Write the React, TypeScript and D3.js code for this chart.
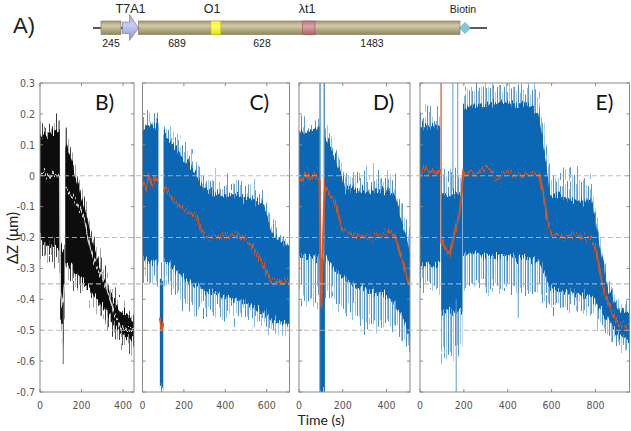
import React from 'react';
import * as d3 from 'd3';

const W = 631;
const H = 431;

// ---------- shared axis info ----------
const yTicks = [0.3, 0.2, 0.1, 0, -0.1, -0.2, -0.3, -0.4, -0.5, -0.6, -0.7];
const refLevels = [0, -0.2, -0.35, -0.5];
const panelLabels = ['B)', 'C)', 'D)', 'E)'];
const panelDomains: [number, number][] = [[0, 453], [0, 710], [0, 507], [0, 955]];
const panelXTicks = [[0, 200, 400], [0, 200, 400, 600], [0, 200, 400], [0, 200, 400, 600, 800]];

// ---------- construct diagram (A) ----------
const segLengths = ['245', '689', '628', '1483'];
const featureNames = ['T7A1', 'O1', 'λt1', 'Biotin'];

// ---------- traces: [t, spikeTop, bandTop, bandBottom, spikeBottom] ----------
type Band = [number, number, number, number, number][];
type Med = [number, number | null][];
type Spike = [number, number, number][];

const bBands: Band[] = [
  [[0, 0.17, 0.13, -0.2, -0.27], [30, 0.16, 0.13, -0.22, -0.27], [60, 0.17, 0.14, -0.23, -0.28], [95, 0.18, 0.15, -0.24, -0.29]],
  [[97, -0.2, -0.24, -0.46, -0.5], [105, -0.2, -0.24, -0.47, -0.52], [112, -0.2, -0.24, -0.48, -0.56], [118, -0.2, -0.24, -0.46, -0.5]],
  [[122, 0.14, 0.11, -0.28, -0.31], [150, 0.08, 0.05, -0.3, -0.34], [200, -0.04, -0.07, -0.33, -0.37], [255, -0.19, -0.22, -0.38, -0.41],
   [300, -0.29, -0.32, -0.42, -0.45], [340, -0.36, -0.39, -0.46, -0.49], [380, -0.41, -0.43, -0.5, -0.53], [420, -0.43, -0.45, -0.52, -0.55], [453, -0.45, -0.47, -0.54, -0.56]],
];
const bMedian: Med = [[0, 0.0], [20, 0.01], [40, -0.01], [60, 0.01], [80, 0.0], [95, 0.0], [98, -0.36], [105, -0.42], [112, -0.4], [118, -0.35], [119, null],
  [124, -0.04], [160, -0.07], [209, -0.13], [241, -0.23], [257, -0.27], [300, -0.33], [337, -0.4], [361, -0.45], [390, -0.49], [420, -0.5], [453, -0.5]];
const bSpikes: Spike[] = [[112, -0.4, -0.61], [70, -0.2, -0.3]];

const cBands: Band[] = [
  [[0, 0.19, 0.16, -0.27, -0.33], [40, 0.19, 0.16, -0.28, -0.34], [77, 0.2, 0.17, -0.28, -0.34]],
  [[84, -0.3, -0.34, -0.68, -0.72], [100, -0.3, -0.34, -0.68, -0.72]],
  [[102, 0.17, 0.14, -0.27, -0.33], [150, 0.13, 0.1, -0.3, -0.37], [200, 0.09, 0.06, -0.33, -0.4], [262, 0.03, 0.0, -0.36, -0.43],
   [300, -0.01, -0.04, -0.37, -0.44], [330, -0.02, -0.06, -0.38, -0.44], [400, -0.02, -0.06, -0.39, -0.45], [500, -0.03, -0.07, -0.41, -0.45],
   [583, -0.06, -0.09, -0.44, -0.48], [632, -0.16, -0.2, -0.47, -0.5], [710, -0.2, -0.23, -0.48, -0.5]],
];
const cMedian: Med = [[0, -0.02], [15, -0.04], [30, 0.0], [45, -0.03], [60, -0.01], [77, -0.02], [78, null], [84, -0.46], [92, -0.5], [100, -0.48], [101, null],
  [102, -0.035], [120, -0.05], [150, -0.08], [182, -0.1], [230, -0.12], [262, -0.13], [285, -0.18], [310, -0.2], [400, -0.195], [472, -0.19],
  [520, -0.22], [551, -0.25], [590, -0.3], [617, -0.34], [640, -0.345], [710, -0.345]];
const cSpikes: Spike[] = [];

const dBands: Band[] = [
  [[0, 0.17, 0.14, -0.26, -0.38], [50, 0.17, 0.14, -0.26, -0.4], [94, 0.19, 0.16, -0.27, -0.38]],
  [[97, -0.24, -0.27, -0.7, -0.72], [117, -0.24, -0.27, -0.7, -0.72]],
  [[118, 0.16, 0.13, -0.26, -0.38], [160, 0.1, 0.07, -0.3, -0.4], [187, 0.05, 0.02, -0.32, -0.42], [210, 0.0, -0.04, -0.33, -0.44],
   [300, -0.01, -0.05, -0.37, -0.47], [400, 0.0, -0.05, -0.39, -0.48], [438, -0.02, -0.06, -0.41, -0.49], [470, -0.1, -0.15, -0.45, -0.53], [507, -0.2, -0.25, -0.52, -0.56]],
];
const dMedian: Med = [[0, 0.0], [15, -0.02], [30, 0.01], [50, -0.01], [70, 0.01], [94, -0.01], [98, -0.3], [102, -0.43], [110, -0.2], [118, -0.03],
  [140, -0.06], [160, -0.08], [172, -0.1], [195, -0.175], [250, -0.19], [320, -0.2], [380, -0.19], [420, -0.18], [440, -0.2], [470, -0.27], [500, -0.345], [507, -0.35]];
const dSpikes: Spike[] = [[96, 0.3, -0.7], [115, 0.3, -0.7]];

const eBands: Band[] = [
  [[0, 0.2, 0.16, -0.29, -0.36], [45, 0.21, 0.16, -0.29, -0.36], [92, 0.2, 0.16, -0.29, -0.36]],
  [[97, 0.0, -0.06, -0.44, -0.57], [150, 0.0, -0.06, -0.44, -0.57], [193, 0.0, -0.06, -0.44, -0.57]],
  [[196, 0.27, 0.22, -0.25, -0.36], [300, 0.29, 0.23, -0.26, -0.36], [400, 0.29, 0.24, -0.26, -0.36], [500, 0.28, 0.23, -0.27, -0.37],
   [540, 0.26, 0.2, -0.27, -0.38], [560, 0.18, 0.12, -0.3, -0.4], [594, 0.0, -0.06, -0.36, -0.43], [700, -0.01, -0.08, -0.38, -0.42],
   [784, -0.02, -0.08, -0.39, -0.44], [822, -0.2, -0.24, -0.43, -0.48], [858, -0.34, -0.37, -0.47, -0.52], [913, -0.42, -0.44, -0.52, -0.56], [955, -0.42, -0.44, -0.53, -0.57]],
];
const eMedian: Med = [[0, 0.0], [20, 0.03], [40, 0.01], [60, 0.02], [80, 0.0], [95, 0.02], [96, null], [98, -0.2], [110, -0.23], [137, -0.25], [160, -0.18],
  [183, -0.11], [198, 0.02], [250, 0.0], [300, 0.03], [350, -0.01], [400, 0.01], [450, 0.0], [540, 0.01], [560, -0.05], [580, -0.14], [600, -0.19],
  [650, -0.2], [700, -0.19], [776, -0.2], [800, -0.23], [836, -0.37], [876, -0.445], [906, -0.48], [955, -0.485]];
const eSpikes: Spike[] = [[150, 0.3, -0.05], [172, 0.3, -0.05], [165, -0.4, -0.7], [448, -0.3, -0.46]];
const eStepLine: Spike[] = [[96, 0.3, -0.22]];

const allBands = [bBands, cBands, dBands, eBands];
const allMedians = [bMedian, cMedian, dMedian, eMedian];
const allSpikes = [bSpikes, cSpikes, dSpikes, eSpikes];

// ---------- layout ----------
const panelX: [number, number][] = [[40, 134], [142.5, 289.5], [299, 410], [420, 629.5]];
const plotTop = 83;
const plotBottom = 392;
const yScale = d3.scaleLinear().domain([-0.7, 0.3]).range([plotBottom, plotTop]);

const tickFont = '"Liberation Sans Narrow", "Arial Narrow", "DejaVu Sans Condensed", sans-serif';
const labelFont = 'Lato, "Open Sans", sans-serif';

function Jag({ id, scale, fy, seed }: { id: string; scale: number; fy: number; seed: number }) {
  return (
    <filter id={id} filterUnits="userSpaceOnUse" x={0} y={0} width={W} height={H} colorInterpolationFilters="sRGB">
      <feTurbulence type="fractalNoise" baseFrequency={`0.9 ${fy}`} numOctaves={2} seed={seed} result="n" />
      <feColorMatrix in="n" type="matrix" values="0 0 0 0 0.5  0 1 0 0 0  0 0 0 0 0  0 0 0 0 1" result="m" />
      <feDisplacementMap in="SourceGraphic" in2="m" scale={scale} xChannelSelector="R" yChannelSelector="G" />
    </filter>
  );
}

function Panel({ i }: { i: number }) {
  const [x0, x1] = panelX[i];
  const x = d3.scaleLinear().domain(panelDomains[i]).range([x0, x1]);
  const isB = i === 0;
  const outerCol = isB ? '#6a6a6a' : '#5d9bd6';
  const innerCol = isB ? '#0d0d0d' : '#0b67b3';
  const medCol = isB ? '#d8d8d8' : '#d9541e';
  const outerArea = d3.area<[number, number, number, number, number]>().x(d => x(d[0])).y0(d => yScale(d[4])).y1(d => yScale(d[1]));
  const innerArea = d3.area<[number, number, number, number, number]>().x(d => x(d[0])).y0(d => yScale(d[3])).y1(d => yScale(d[2]));
  const medLine = d3.line<[number, number | null]>().defined(d => d[1] !== null).x(d => x(d[0])).y(d => yScale(d[1] as number));
  const clipId = `clip${i}`;
  const axisCol = '#8a8a8a';
  const xt = panelXTicks[i];
  return (
    <g>
      <clipPath id={clipId}>
        <rect x={x0} y={plotTop} width={x1 - x0} height={plotBottom - plotTop} />
      </clipPath>
      <g clipPath={`url(#${clipId})`}>
        <g filter="url(#jagOuter)">
          {allBands[i].map((s, k) => <path key={k} d={outerArea(s) || ''} fill={isB ? 'url(#stripeGray)' : 'url(#stripeBlue)'} />)}
        </g>
        <g filter="url(#jagInner)">
          {allBands[i].map((s, k) => <path key={k} d={innerArea(s) || ''} fill={innerCol} />)}
        </g>
        {allSpikes[i].map((s, k) => (
          <line key={k} x1={x(s[0])} x2={x(s[0])} y1={yScale(s[1])} y2={yScale(s[2])}
            stroke={i === 2 ? innerCol : outerCol} strokeWidth={1} />
        ))}
        {i === 3 && eStepLine.map((s, k) => (
          <line key={k} x1={x(s[0])} x2={x(s[0])} y1={yScale(s[1])} y2={yScale(s[2])} stroke={medCol} strokeWidth={1.2} />
        ))}
        <g filter="url(#jagLine)">
          <path d={medLine(allMedians[i]) || ''} fill="none" stroke={medCol} strokeWidth={isB ? 1.4 : 2} />
        </g>
      </g>
      <rect x={x0} y={plotTop} width={x1 - x0} height={plotBottom - plotTop} fill="none" stroke={axisCol} strokeWidth={1} />
      {xt.map(t => (
        <g key={t}>
          <line x1={x(t)} x2={x(t)} y1={plotBottom} y2={plotBottom - 3} stroke={axisCol} />
          <line x1={x(t)} x2={x(t)} y1={plotTop} y2={plotTop + 3} stroke={axisCol} />
          <text x={x(t)} y={409} textAnchor="middle" fontFamily={tickFont} fontSize={10.5} fill="#555">{t}</text>
        </g>
      ))}
      {yTicks.map(v => (
        <g key={v}>
          <line x1={x0} x2={x0 + 3} y1={yScale(v)} y2={yScale(v)} stroke={axisCol} />
          <line x1={x1} x2={x1 - 3} y1={yScale(v)} y2={yScale(v)} stroke={axisCol} />
          {isB && (
            <text x={35} y={yScale(v) + 3.8} textAnchor="end" fontFamily={tickFont} fontSize={10.5} fill="#555">{v === 0 ? '0' : String(v)}</text>
          )}
        </g>
      ))}
      <text x={x1 - 39 + (i === 0 ? 0 : i === 1 ? -1 : i === 2 ? 2 : 5)} y={110} fontFamily={labelFont} fontSize={21} fill="#111">{panelLabels[i]}</text>
    </g>
  );
}

function Construct() {
  const barY = 21;
  const barH = 13.5;
  const midY = 28;
  const f = "'Liberation Sans', Arial, sans-serif";
  return (
    <g>
      <defs>
        <linearGradient id="tan" x1="0" y1="0" x2="0" y2="1">
          <stop offset="0" stopColor="#a39b74" />
          <stop offset="0.35" stopColor="#d2cba6" />
          <stop offset="1" stopColor="#8f875e" />
        </linearGradient>
        <linearGradient id="lav" x1="0" y1="0" x2="0" y2="1">
          <stop offset="0" stopColor="#9ea3dc" />
          <stop offset="0.4" stopColor="#c9ccf0" />
          <stop offset="1" stopColor="#8a8fcf" />
        </linearGradient>
        <linearGradient id="yel" x1="0" y1="0" x2="0" y2="1">
          <stop offset="0" stopColor="#f2f020" />
          <stop offset="0.4" stopColor="#ffff70" />
          <stop offset="1" stopColor="#e6e200" />
        </linearGradient>
        <linearGradient id="red" x1="0" y1="0" x2="0" y2="1">
          <stop offset="0" stopColor="#b8747a" />
          <stop offset="0.4" stopColor="#dba5aa" />
          <stop offset="1" stopColor="#a9636a" />
        </linearGradient>
      </defs>
      <text x={13} y={33} fontFamily={f} fontSize={22} fill="#222">A)</text>
      <line x1={93} x2={487} y1={midY} y2={midY} stroke="#222" strokeWidth={1.6} />
      <rect x={101} y={barY} width={20} height={barH} fill="url(#tan)" stroke="#7b7452" strokeWidth={0.6} />
      <polygon points={`122.5,${barY + 1} 129.5,${barY + 1} 129.5,14.5 138.5,${midY} 129.5,40.5 129.5,${barY + barH - 1} 122.5,${barY + barH - 1}`}
        fill="url(#lav)" stroke="#6a6fb3" strokeWidth={0.6} />
      <rect x={138.5} y={barY} width={321.5} height={barH} fill="url(#tan)" stroke="#7b7452" strokeWidth={0.6} />
      <rect x={211} y={barY} width={9.7} height={barH} fill="url(#yel)" stroke="#c8c400" strokeWidth={0.5} />
      <rect x={302.3} y={barY} width={12.7} height={barH} fill="url(#red)" stroke="#9a5a60" strokeWidth={0.6} />
      <polygon points={`465,${midY - 5.5} 470.5,${midY} 465,${midY + 5.5} 459.5,${midY}`} fill="#7fc9dc" stroke="#4d99b1" strokeWidth={0.6} />
      <text x={130.5} y={13} textAnchor="middle" fontFamily={f} fontSize={12.5} fill="#222">{featureNames[0]}</text>
      <text x={212} y={13} textAnchor="middle" fontFamily={f} fontSize={12.5} fill="#222">{featureNames[1]}</text>
      <text x={307} y={13} textAnchor="middle" fontFamily={f} fontSize={12.5} fill="#222">{featureNames[2]}</text>
      <text x={463} y={13} textAnchor="middle" fontFamily={f} fontSize={10.5} fill="#222">{featureNames[3]}</text>
      {[111, 177, 262, 372].map((cx, k) => (
        <text key={k} x={cx} y={47} textAnchor="middle" fontFamily={f} fontSize={10.5} fill="#222">{segLengths[k]}</text>
      ))}
    </g>
  );
}

export default function App() {
  return (
    <svg width={W} height={H} viewBox={`0 0 ${W} ${H}`} style={{ position: 'absolute', left: 0, top: 0, background: '#fff' }}>
      <defs>
        <pattern id="stripeBlue" width={7} height={4} patternUnits="userSpaceOnUse">
          <rect x={0} y={0} width={1} height={4} fill="#4a8ecf" />
          <rect x={2} y={0} width={1} height={4} fill="#8dbbe6" />
          <rect x={3} y={0} width={1} height={4} fill="#5e9bd6" />
          <rect x={5} y={0} width={1} height={4} fill="#a4c8ea" />
        </pattern>
        <pattern id="stripeGray" width={7} height={4} patternUnits="userSpaceOnUse">
          <rect x={0} y={0} width={1} height={4} fill="#3a3a3a" />
          <rect x={2} y={0} width={1} height={4} fill="#9a9a9a" />
          <rect x={3} y={0} width={1} height={4} fill="#555" />
          <rect x={5} y={0} width={1} height={4} fill="#aaa" />
        </pattern>
        <Jag id="jagOuter" scale={48} fy={0.05} seed={4} />
        <Jag id="jagInner" scale={20} fy={0.04} seed={9} />
        <Jag id="jagLine" scale={14} fy={0.06} seed={2} />
      </defs>
      <rect x={0} y={0} width={W} height={H} fill="#fff" />
      <Construct />
      {[0, 1, 2, 3].map(i => <Panel key={i} i={i} />)}
      {refLevels.map(v => (
        <line key={v} x1={40} x2={629.5} y1={yScale(v)} y2={yScale(v)} stroke="#b4b4b4" strokeOpacity={0.9} strokeWidth={1.1} strokeDasharray="5,3" />
      ))}
      <text transform={`translate(18,${238}) rotate(-90)`} textAnchor="middle" fontFamily={labelFont} fontSize={15} fill="#222">ΔZ (μm)</text>
      <text x={321} y={425} textAnchor="middle" fontFamily={labelFont} fontSize={14} fill="#222">Time (s)</text>
    </svg>
  );
}
